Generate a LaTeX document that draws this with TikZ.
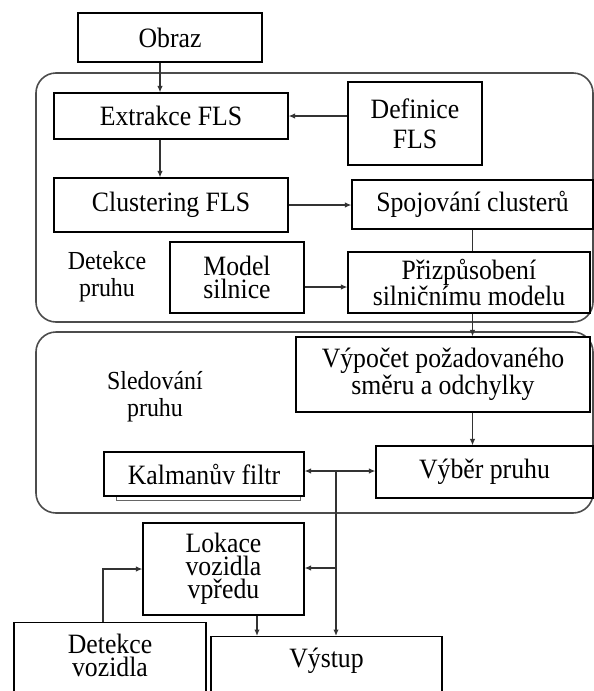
\documentclass[tikz,border=0pt]{standalone}
\usepackage{fontspec}
\setmainfont[FakeStretch=0.92]{Liberation Serif}
\usetikzlibrary{arrows.meta,shadows}
\begin{document}
\begin{tikzpicture}[x=1pt,y=-1pt,
 box/.style={draw=black, line width=1.1pt, fill=white, inner sep=0pt, align=center,
   font=\fontsize{28}{23}\selectfont,
   drop shadow={shadow xshift=1.3pt, shadow yshift=-1.3pt, opacity=0.3}},
 plainbox/.style={draw=black, line width=1.1pt, fill=white, inner sep=0pt, align=center,
   font=\fontsize{28}{23}\selectfont},
 region/.style={draw=black!70, line width=1.6pt, rounded corners=20pt, inner sep=0pt},
 lbl/.style={align=center, font=\fontsize{26}{27}\selectfont, inner sep=0pt},
 txt/.style={align=center, font=\fontsize{28}{23}\selectfont, inner sep=0pt},
 conn/.style={draw=black!80, line width=1.6pt},
 arr/.style={conn, -{Latex[length=6.5pt,width=5.5pt]}},
]
\clip (0,0) rectangle (594,691);
\fill[white] (0,0) rectangle (594,691);

% regions
\node[region, minimum width=557pt, minimum height=249pt] (detreg) at (314.5,197.5) {};
\node[region, minimum width=557pt, minimum height=181pt] (sledreg) at (314.5,422.5) {};
\node[lbl] (detlbl) at (107,277) {Detekce\\pruhu};
\node[lbl] (sledlbl) at (155,397) {Sledování\\pruhu};

% boxes
\node[box, minimum width=184pt, minimum height=49pt] (obraz) at (170,37.5) {Obraz};
\node[box, minimum width=234pt, minimum height=46pt] (extr) at (171,116) {Extrakce FLS};
\node[box, minimum width=134pt, minimum height=83pt, font=\fontsize{28}{30}\selectfont] (def) at (415,123.5) {Definice\\FLS};
\node[box, minimum width=234pt, minimum height=54pt] (clus) at (171,205) {Clustering FLS};
\node[box, minimum width=241pt, minimum height=49pt] (spoj) at (472.5,204.5) {Spojování clusterů};
\node[box, minimum width=134pt, minimum height=71pt] (model) at (237,277.5) {Model\\silnice};
\node[box, minimum width=242pt, minimum height=61pt] (prz) at (469,282.5) {Přizpůsobení\\silničnímu modelu};
\node[box, minimum width=294pt, minimum height=75pt] (vyp) at (443,374.5) {Výpočet požadovaného\\směru a odchylky};
\node[box, minimum width=217pt, minimum height=52pt] (vyb) at (484.5,472) {Výběr pruhu};
\node[draw=black!60, line width=0.9pt, fill=white, minimum width=184pt, minimum height=44pt, inner sep=0pt] (kalsh) at (208,478) {};
\node[plainbox, minimum width=200pt, minimum height=44pt] (kal) at (204,474) {Kalmanův filtr};
\node[box, minimum width=161pt, minimum height=92pt] (lok) at (223.5,569) {Lokace\\vozidla\\vpředu};
\node[box, minimum width=192pt, minimum height=90pt, anchor=north] (dvbox) at (110,622) {};
\node[txt] (dvtxt) at (110,655) {Detekce\\vozidla};
\node[box, minimum width=231pt, minimum height=80pt, anchor=north] (vysbox) at (326.5,636) {};
\node[txt] (vystxt) at (326.5,661) {Výstup};

% connectors
\draw[arr] ([xshift=-10pt]obraz.south) -- ([xshift=-11pt]extr.north);
\draw[arr] (def.west |- extr.east) -- (extr.east);
\draw[arr] ([xshift=-11pt]extr.south) -- ([xshift=-11pt]clus.north);
\draw[arr] (clus.east) -- (clus.east -| spoj.west);
\draw[conn] (spoj.south) -- (spoj.south |- prz.north);
\coordinate (m1) at ([yshift=-9.5pt]model.east);
\draw[arr] (m1) -- (m1 -| prz.west);
\draw[arr] (prz.south -| spoj.south) -- (vyp.north -| spoj.south);
\draw[arr] (vyp.south -| spoj.south) -- (vyb.north -| spoj.south);
\coordinate (j) at (336,471);
\coordinate (j2) at (336,568);
\draw[arr] (j) -- (j -| kal.east);
\draw[arr] (j) -- (j -| vyb.west);
\draw[arr] (j) -- (j |- vysbox.north);
\draw[arr] (j2) -- (j2 -| lok.east);
\coordinate (l1) at ([xshift=33.5pt]lok.south);
\draw[arr] (l1) -- (l1 |- vysbox.north);
\coordinate (d1) at ([xshift=-7pt]dvbox.north);
\draw[arr] (d1) |- (lok.west);
\end{tikzpicture}
\end{document}
